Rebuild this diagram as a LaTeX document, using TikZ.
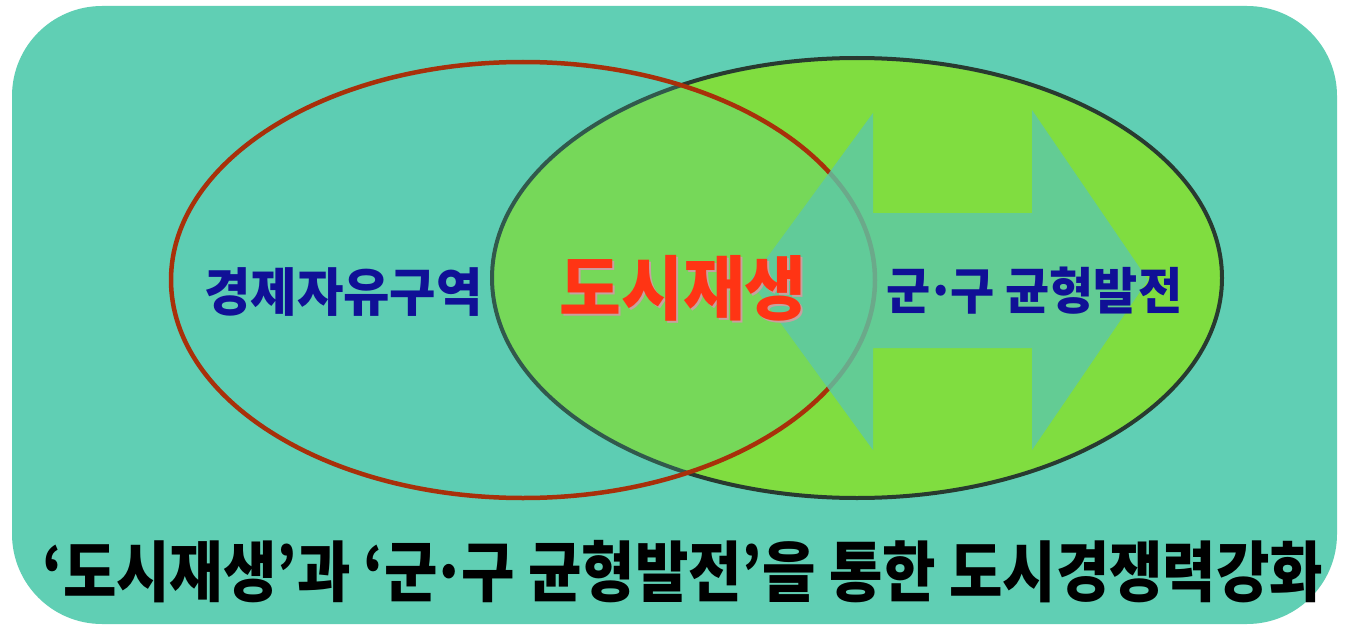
\documentclass[tikz,border=0pt]{standalone}
\usepackage{fontspec}
\newfontfamily\kr{Noto Sans CJK KR}
\definecolor{bgteal}{RGB}{96,207,180}
\definecolor{lteal}{RGB}{84,200,178}
\definecolor{lgreen}{RGB}{128,221,64}
\definecolor{arrteal}{RGB}{92,200,170}
\definecolor{redline}{RGB}{168,48,10}
\definecolor{darkline}{RGB}{40,58,48}
\definecolor{ktblue}{RGB}{16,16,150}
\definecolor{ktred}{RGB}{255,52,20}
\definecolor{shadow}{RGB}{200,160,160}
\newcommand{\mdot}{\kern-0.1em·\kern-0.1em}
\tikzset{
  label/.style={inner sep=0pt, font=\kr\bfseries},
}
\begin{document}
\begin{tikzpicture}[x=1pt,y=-1pt]
\useasboundingbox (0,0) rectangle (1347,626);
\fill[white] (0,0) rectangle (1347,626);
% background panel
\fill[bgteal,rounded corners=90pt] (12,6) rectangle (1337,624);
% right ellipse
\draw[darkline,line width=4pt,fill=lgreen] (857,278) ellipse [x radius=365, y radius=220];
% left ellipse
\fill[lteal,fill opacity=0.22] (523,280) ellipse [x radius=352, y radius=218];
\draw[redline,line width=4.5pt] (523,280) ellipse [x radius=352, y radius=218];
% double arrow
\fill[arrteal,fill opacity=0.8]
  (750,281) -- (873,113) -- (873,213) -- (1032,213) -- (1032,110)
  -- (1148,280) -- (1032,450) -- (1032,348) -- (873,348) -- (873,450) -- cycle;
% texts
\node[label,text=ktblue,font=\kr\bfseries\fontsize{52}{55}\selectfont,xscale=0.97] (fez) at (343.5,292.5) {경제자유구역};
\node[label,text=shadow,font=\kr\bfseries\fontsize{70}{74}\selectfont,xscale=0.96] (regsh) at (685,290) {도시재생};
\node[label,text=ktred,font=\kr\bfseries\fontsize{70}{74}\selectfont,xscale=0.96] (reg) at (683,288) {도시재생};
\node[label,text=ktblue,font=\kr\bfseries\fontsize{50}{53}\selectfont,xscale=0.96] (bal) at (1034.5,291) {군\mdot 구 균형발전};
\node[label,text=black,font=\kr\bfseries\fontsize{66}{69}\selectfont,xscale=0.88] (goal) at (683,572) {‘도시재생’과 ‘군\mdot 구 균형발전’을 통한 도시경쟁력강화};
\end{tikzpicture}
\end{document}
